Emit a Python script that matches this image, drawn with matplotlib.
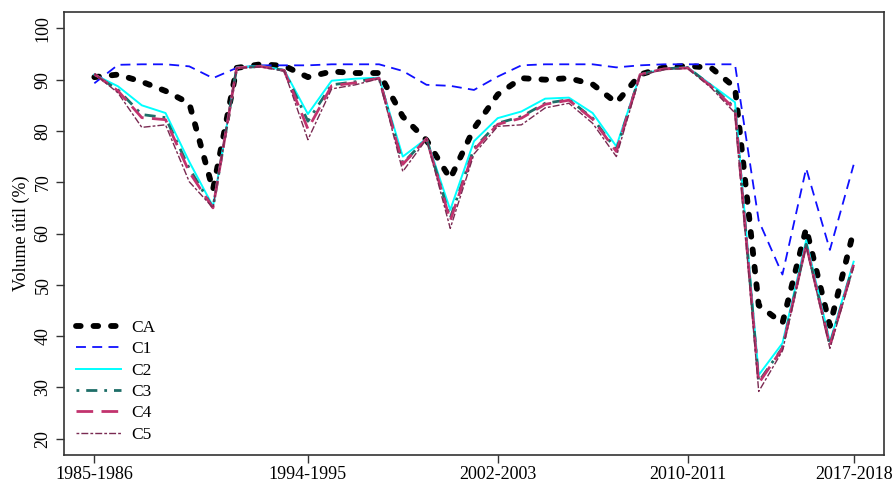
import matplotlib
matplotlib.use("Agg")
import matplotlib.pyplot as plt

# seasons 1985-1986 ... 2017-2018
seasons = [f"{y}-{y + 1}" for y in range(1985, 2018)]
tick_labels = ["1985-1986", "1994-1995", "2002-2003", "2010-2011", "2017-2018"]

ca = [90.5, 91.0, 89.6, 87.8, 85.4, 68.5, 92.3, 93.0, 92.7, 90.5, 91.6,
      91.3, 91.3, 82.8, 78.2, 70.7, 80.5, 87.1, 90.3, 90.0, 90.3, 89.1,
      85.5, 91.0, 92.4, 92.7, 92.3, 88.5, 46.0, 42.5, 61.0, 42.0, 60.5]
c1 = [89.3, 92.9, 93.0, 93.0, 92.6, 90.3, 92.3, 92.8, 92.8, 92.8, 93.0,
      93.0, 93.0, 91.7, 89.0, 88.8, 88.0, 90.6, 92.8, 93.0, 93.0, 93.0,
      92.4, 92.8, 93.0, 93.0, 93.0, 93.0, 62.5, 52.0, 72.7, 56.8, 73.4]
c2 = [91.0, 88.7, 85.0, 83.5, 74.0, 65.3, 92.4, 92.7, 91.9, 83.3, 89.8,
      90.2, 90.4, 75.0, 78.5, 64.6, 78.0, 82.5, 83.8, 86.3, 86.5, 83.5,
      77.0, 91.0, 92.1, 92.4, 89.0, 85.6, 32.4, 38.6, 58.7, 38.9, 54.5]
c3 = [91.0, 88.0, 83.2, 82.6, 72.7, 65.0, 92.3, 92.6, 91.8, 81.9, 89.0,
      89.6, 90.3, 73.7, 78.5, 63.0, 76.6, 81.5, 82.8, 85.4, 86.1, 82.5,
      76.3, 91.0, 92.1, 92.4, 88.8, 84.5, 31.1, 37.7, 57.9, 38.3, 54.0]
c4 = [91.1, 87.8, 82.6, 82.2, 72.0, 65.0, 92.3, 92.6, 91.8, 80.4, 88.8,
      89.4, 90.3, 73.5, 78.5, 62.5, 76.3, 81.3, 82.5, 85.2, 86.0, 82.3,
      76.0, 91.0, 92.1, 92.3, 88.7, 84.2, 30.8, 37.6, 57.8, 38.1, 53.9]
c5 = [91.2, 87.4, 80.7, 81.2, 70.1, 65.0, 92.2, 92.5, 91.7, 78.3, 88.2,
      89.0, 90.2, 72.1, 78.4, 61.0, 75.5, 80.9, 81.2, 84.5, 85.4, 81.5,
      75.0, 90.8, 92.0, 92.2, 88.4, 83.5, 29.2, 37.1, 57.5, 37.6, 53.5]

plt.rcParams["font.family"] = ["Liberation Serif", "DejaVu Serif"]

fig = plt.figure(figsize=(8.96, 4.88), dpi=100)
ax = fig.add_axes([0.0714, 0.0676, 0.9152, 0.9078])

x = list(range(len(seasons)))

ax.plot(x, ca, color="black", lw=4.2, linestyle=(0, (0.8, 2.2)),
        dash_capstyle="round", label="CA")
ax.plot(x, c1, color="#1010ff", lw=1.3, linestyle=(0, (5.5, 3.5)), label="C1")
ax.plot(x, c2, color="#00ffff", lw=1.4, linestyle="-", label="C2")
ax.plot(x, c3, color="#1e6e68", lw=2.0, linestyle=(0, (1, 2.5, 4, 2.5)),
        label="C3")
ax.plot(x, c4, color="#c2336e", lw=2.0, linestyle=(0, (6, 3)), label="C4")
ax.plot(x, c5, color="#7a2a52", lw=1.0, linestyle=(0, (2, 1.5, 5, 1.5)),
        label="C5")

ax.set_xlim(-1.28, len(seasons) - 1 + 1.28)
ax.set_ylim(16.8, 103.2)
ax.set_yticks([20, 30, 40, 50, 60, 70, 80, 90, 100])
ax.set_xticks([seasons.index(t) for t in tick_labels])
ax.set_xticklabels(tick_labels)
for lab in ax.get_yticklabels():
    lab.set_rotation(90)
    lab.set_va("center")

ax.tick_params(axis="both", labelsize=13, length=6, width=1.0,
               color="#333333", direction="out")
ax.tick_params(axis="y", pad=3)
ax.tick_params(axis="x", pad=2)
for s in ax.spines.values():
    s.set_linewidth(1.2)
    s.set_color("#333333")

ax.set_ylabel("Volume útil (%)", fontsize=13, labelpad=3)

ax.legend(loc="lower left", frameon=False, fontsize=12.5, handlelength=2.6,
          labelspacing=0.3, handletextpad=0.6, borderaxespad=0.3)

fig.savefig("out.png", dpi=100)
